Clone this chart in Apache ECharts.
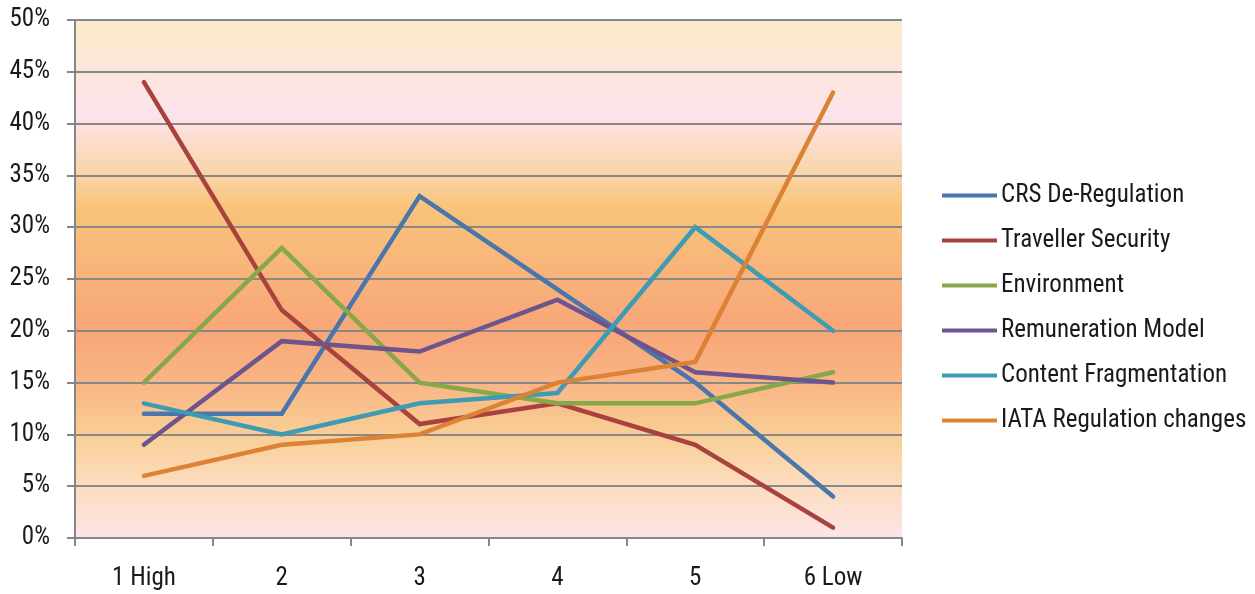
<!DOCTYPE html>
<html>
<head>
<meta charset="utf-8">
<script src="https://cdn.jsdelivr.net/npm/echarts@6/dist/echarts.min.js"></script>
<style>
html,body{margin:0;padding:0;background:#fff;}
#chart{width:1255px;height:594px;}
</style>
</head>
<body>
<div id="chart"></div>
<script>
var categories = ['1 High', '2', '3', '4', '5', '6 Low'];
var crsDeregulation = [12, 12, 33, 24, 15, 4];
var travellerSecurity = [44, 22, 11, 13, 9, 1];
var environment = [15, 28, 15, 13, 13, 16];
var remunerationModel = [9, 19, 18, 23, 16, 15];
var contentFragmentation = [13, 10, 13, 14, 30, 20];
var iataRegulation = [6, 9, 10, 15, 17, 43];
var seriesNames = ['CRS De-Regulation', 'Traveller Security', 'Environment', 'Remuneration Model', 'Content Fragmentation', 'IATA Regulation changes'];
var seriesColors = ['#4A76AC', '#A8423F', '#86A84B', '#6E548D', '#3D9BB3', '#DC8235'];
var seriesData = [crsDeregulation, travellerSecurity, environment, remunerationModel, contentFragmentation, iataRegulation];

var FONT = '"Liberation Sans Narrow", "Roboto Condensed", Roboto, sans-serif';
var chart = echarts.init(document.getElementById('chart'), null, {renderer: 'canvas'});
var option = {
  animation: false,
  grid: {
    left: 75, right: 353, top: 20, bottom: 56,
    show: true,
    borderWidth: 0,
    backgroundColor: new echarts.graphic.LinearGradient(0, 0, 0, 1, [
      {offset: 0, color: '#FAEBC8'},
      {offset: 0.1, color: '#FCE6DC'},
      {offset: 0.18, color: '#FDE4EC'},
      {offset: 0.3, color: '#F9D4A6'},
      {offset: 0.36, color: '#F8C47A'},
      {offset: 0.5, color: '#F8B27A'},
      {offset: 0.6, color: '#F8A678'},
      {offset: 0.7, color: '#F9B585'},
      {offset: 0.8, color: '#F9CE95'},
      {offset: 0.9, color: '#FCDDC0'},
      {offset: 1, color: '#FDE4E6'}
    ])
  },
  legend: {
    orient: 'vertical',
    left: 937,
    top: 178,
    icon: 'rect',
    itemWidth: 55,
    itemHeight: 4,
    itemGap: 20,
    data: seriesNames,
    textStyle: {fontFamily: FONT, fontSize: 25, color: '#1a1a1a', lineHeight: 23, padding: [0, 0, 0, -1]}
  },
  xAxis: {
    type: 'category',
    data: categories,
    boundaryGap: true,
    axisLine: {show: true, lineStyle: {color: '#868686', width: 2}},
    axisTick: {show: true, length: 8, lineStyle: {color: '#868686', width: 2}},
    axisLabel: {margin: 28, fontFamily: FONT, fontSize: 25, color: '#1a1a1a'},
    splitLine: {show: false}
  },
  yAxis: {
    type: 'value',
    min: 0, max: 50, interval: 5,
    axisLine: {show: true, lineStyle: {color: '#868686', width: 2}},
    axisTick: {show: true, length: 8, lineStyle: {color: '#868686', width: 2}},
    axisLabel: {margin: 25, formatter: '{value}%', fontFamily: FONT, fontSize: 25, color: '#1a1a1a'},
    splitLine: {show: true, lineStyle: {color: '#888888', width: 2}}
  },
  series: seriesNames.map(function (name, i) {
    return {
      name: name,
      type: 'line',
      data: seriesData[i],
      symbol: 'none',
      color: seriesColors[i],
      lineStyle: {width: 4.5, color: seriesColors[i], cap: 'round', join: 'miter'},
      z: 2 + i
    };
  })
};
chart.setOption(option);
</script>
</body>
</html>
